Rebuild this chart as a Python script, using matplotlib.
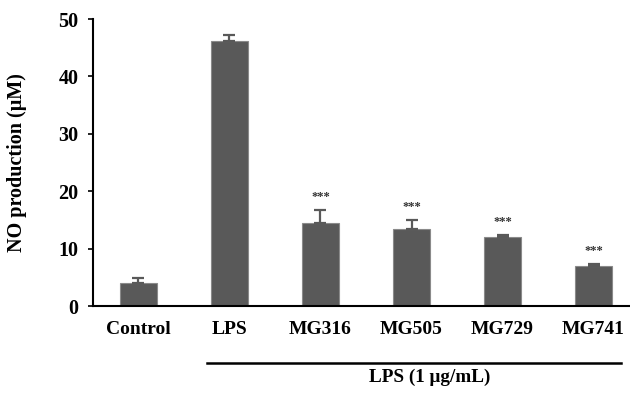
import matplotlib
matplotlib.use("Agg")
import matplotlib.pyplot as plt
import matplotlib.transforms as mtransforms
import numpy as np

# values
groups = ['Control', 'LPS', 'MG316', 'MG505', 'MG729', 'MG741']
no_mean = [4.0, 46.2, 14.5, 13.5, 12.1, 6.9]
no_err = [0.9, 1.1, 2.3, 1.5, 0.35, 0.35]
stars = ['', '', '***', '***', '***', '***']
bracket_label = 'LPS (1 \u03bcg/mL)'

plt.rcParams['font.family'] = ['Liberation Serif', 'DejaVu Serif']
plt.rcParams['font.weight'] = 'bold'

fig = plt.figure(figsize=(6.3, 4.05), dpi=100)
ax = fig.add_axes([0.1476, 0.2444, 0.8667, 0.7086])

x = np.arange(len(groups))
bar_col = '#595959'
ax.bar(x, no_mean, width=0.4, color=bar_col, edgecolor='#8a8a8a', linewidth=0.8, zorder=2)
ax.errorbar(x, no_mean, yerr=[np.zeros(len(no_err)), no_err], fmt='none',
            ecolor=bar_col, elinewidth=1.6, capsize=4, capthick=1.6, zorder=3)

# significance marks
for xi, m, e, s in zip(x, no_mean, no_err, stars):
    if s:
        ax.annotate(s, (xi, m + e), xytext=(0, 5), textcoords='offset points',
                    ha='center', va='bottom', fontsize=9, fontweight='bold', color='#333333')

ax.set_xlim(-0.5, 5.5)
ax.set_ylim(0, 50)
ax.set_yticks([0, 10, 20, 30, 40, 50])
ax.set_xticks(x)
ax.set_xticklabels(groups, fontsize=14, fontweight='bold')
ax.tick_params(axis='x', length=0, pad=11)
ax.tick_params(axis='y', direction='out', length=3.5, width=1.2, labelsize=14.5, pad=7)
for lab in ax.get_yticklabels():
    lab.set_fontweight('bold')

for sp in ['top', 'right']:
    ax.spines[sp].set_visible(False)
for sp in ['left', 'bottom']:
    ax.spines[sp].set_linewidth(1.5)
    ax.spines[sp].set_color('black')

ax.set_ylabel('NO production (\u03bcM)', fontsize=14.5, fontweight='bold')
ax.yaxis.set_label_coords(-0.121, 0.5)

# bracket line under LPS-treated groups
trans = mtransforms.blended_transform_factory(ax.transData, ax.transAxes)
ax.plot([0.75, 5.3], [-0.199, -0.199], color='black', lw=1.8, transform=trans, clip_on=False)
ax.text(3.2, -0.247, bracket_label, transform=trans, ha='center', va='center',
        fontsize=13.8, fontweight='bold')

fig.savefig('out.png', dpi=100)
